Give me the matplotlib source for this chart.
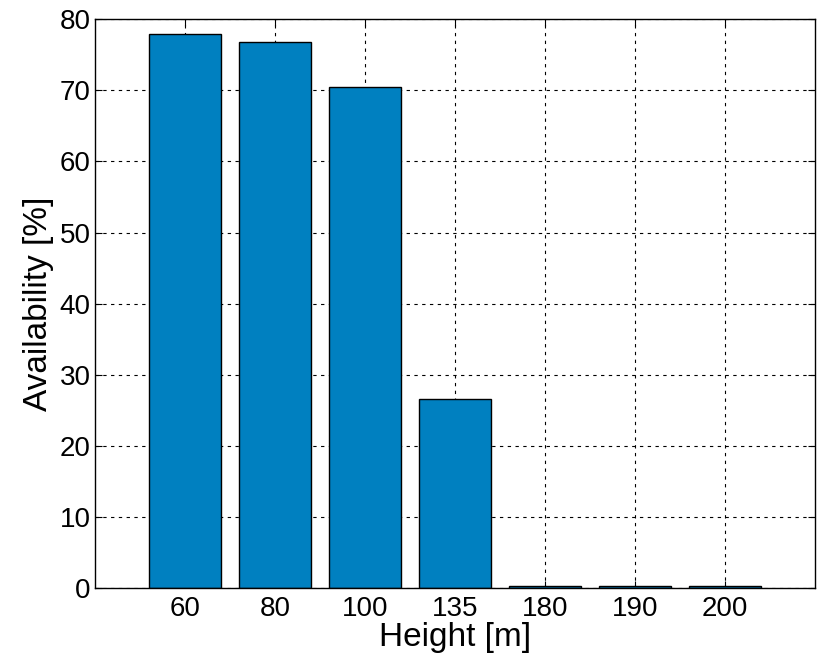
import numpy as np
import matplotlib.pyplot as plt

plt.rcParams['font.family'] = ['Liberation Sans', 'DejaVu Sans']

# --- DATA ---
heights = ["60", "80", "100", "135", "180", "190", "200"]
availability = [77.9, 76.8, 70.4, 26.6, 0.3, 0.3, 0.3]

fig = plt.figure(figsize=(8.22, 6.63), dpi=100)
ax = fig.add_axes([0.1156, 0.113, 0.876, 0.858])

x = np.arange(1, len(heights) + 1)
ax.bar(x, availability, width=0.8, color="#0080C0", edgecolor="black", linewidth=1.0, zorder=2)

ax.set_xlim(0, 8)
ax.set_ylim(0, 80)
ax.set_xticks(x)
ax.set_xticklabels(heights)
ax.set_yticks(np.arange(0, 81, 10))

ax.grid(True, color="black", linestyle=(0, (3, 4)), linewidth=0.8, zorder=1)
ax.set_axisbelow(True)
ax.tick_params(direction="in", labelsize=20, length=5, top=True, right=True)
ax.tick_params(axis="x", pad=6)
ax.tick_params(axis="y", pad=3)
for s in ax.spines.values():
    s.set_linewidth(1.0)

ax.set_xlabel("Height [m]", fontsize=24, labelpad=0)
ax.set_ylabel("Availability [%]", fontsize=24, labelpad=4)

fig.savefig("out.png", dpi=100)
